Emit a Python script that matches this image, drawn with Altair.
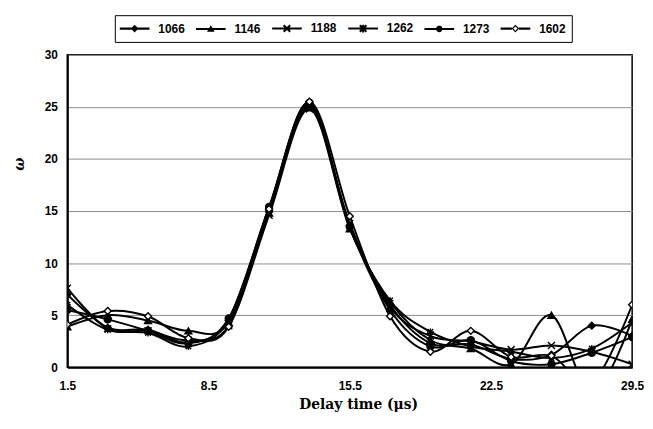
import math
import altair as alt
import pandas as pd

# ---------------- data ----------------
delay = [1.5, 3.5, 5.5, 7.5, 9.5, 11.5, 13.5, 15.5, 17.5, 19.5, 21.5, 23.5, 25.5, 27.5, 29.5]
series_names = ["1066", "1146", "1188", "1262", "1273", "1602"]

w1066 = [7.0, 3.8, 3.6, 2.4, 4.5, 15.0, 25.1, 13.6, 6.0, 2.3, 2.2, 0.8, 1.2, 4.0, 3.0]
w1146 = [3.9, 5.0, 4.5, 3.5, 4.3, 14.8, 24.9, 13.3, 6.3, 2.6, 1.8, 0.3, 5.0, -2.5, 4.6]
w1188 = [7.6, 3.7, 3.5, 2.6, 4.0, 14.6, 24.8, 13.8, 5.8, 3.0, 2.5, 1.7, 2.1, 1.5, 0.3]
w1262 = [6.0, 3.6, 3.3, 2.0, 4.6, 15.3, 25.2, 13.4, 6.4, 3.4, 2.0, 1.5, 0.9, 1.8, 4.3]
w1273 = [5.5, 4.6, 3.5, 2.3, 4.7, 15.4, 25.4, 13.5, 5.5, 2.0, 2.6, 0.6, 0.3, 1.4, 2.9]
w1602 = [4.1, 5.4, 4.9, 2.8, 3.9, 15.2, 25.5, 14.5, 4.9, 1.5, 3.5, 1.0, 1.1, -1.5, 6.0]

x_ticks = [1.5, 8.5, 15.5, 22.5, 29.5]
y_ticks = [0, 5, 10, 15, 20, 25, 30]

rows = []
for name, vals in zip(series_names, [w1066, w1146, w1188, w1262, w1273, w1602]):
    for t, v in zip(delay, vals):
        rows.append({"t": t, "w": v, "series": name})
df = pd.DataFrame(rows)

# ---------------- marker shapes (chart) ----------------
X_PATH = "M-1,-1L1,1M-1,1L1,-1"
AST_PATH = "M-1,0L1,0M0,-1L0,1M-0.8,-0.8L0.8,0.8M-0.8,0.8L0.8,-0.8"
point_shapes = ["diamond", "triangle-up", X_PATH, AST_PATH, "circle", "diamond"]
point_fills = ["black", "black", "black", "black", "black", "white"]

# ---------------- legend symbols: filled polygons (unit = 6px) ----------------
c = 1.17   # marker centre offset
L = 2.5    # half length of the legend line
h = 0.17   # half thickness of strokes


def f(v):
    return f"{v:.3f}"


def poly(pts, positive=True):
    area = sum(pts[i][0] * pts[(i + 1) % len(pts)][1] - pts[(i + 1) % len(pts)][0] * pts[i][1]
               for i in range(len(pts)))
    if (area > 0) != positive:
        pts = pts[::-1]
    return "M" + "L".join(f"{f(x)},{f(y)}" for x, y in pts) + "Z"


def bar(x0, y0, x1, y1, t=h):
    dx, dy = x1 - x0, y1 - y0
    n = math.hypot(dx, dy)
    nx, ny = -dy / n * t, dx / n * t
    return poly([(x0 - nx, y0 - ny), (x1 - nx, y1 - ny), (x1 + nx, y1 + ny), (x0 + nx, y0 + ny)])


def diamond(r, positive=True):
    return poly([(c - r, 0), (c, -r), (c + r, 0), (c, r)], positive)


line_full = bar(c - L, 0, c + L, 0)
tri = poly([(c - 0.64, 0.47), (c, -0.64), (c + 0.64, 0.47)])
xm = bar(c - 0.55, -0.55, c + 0.55, 0.55) + bar(c - 0.55, 0.55, c + 0.55, -0.55)
astm = xm + bar(c, -0.65, c, 0.65)
circ = poly([(c + 0.55 * math.cos(2 * math.pi * k / 20), 0.55 * math.sin(2 * math.pi * k / 20))
             for k in range(20)])
ring = (bar(c - L, 0, c - 0.6, 0) + bar(c + 0.6, 0, c + L, 0)
        + diamond(0.64, True) + diamond(0.36, False))
legend_paths = [
    line_full + diamond(0.64),
    line_full + tri,
    line_full + xm,
    line_full + astm,
    line_full + circ,
    ring,
]

# ---------------- encodings ----------------
x_enc = alt.X(
    "t:Q",
    scale=alt.Scale(domain=[1.5, 29.5], nice=False, zero=False),
    axis=alt.Axis(
        values=x_ticks, format=".1f", grid=False, ticks=False, labelFlush=False,
        labelPadding=13, title="Delay time (μs)", titleFont="DejaVu Serif",
        titleFontWeight="bold", titleFontSize=14, titleColor="black",
        titleBaseline="middle", titleY=38, titleX=294,
    ),
)
y_enc = alt.Y(
    "w:Q",
    scale=alt.Scale(domain=[0, 30], nice=False, zero=True),
    axis=alt.Axis(
        values=y_ticks, grid=True, ticks=False, labelFlush=False, labelPadding=10,
        gridColor="#8c8c8c", gridWidth=1,
        title="ω", titleFont="DejaVu Serif", titleFontStyle="italic",
        titleFontWeight="bold", titleFontSize=14, titleColor="black",
        titleBaseline="middle", titleX=-48, titleY=110,
    ),
)

lines = alt.Chart(df).mark_line(
    interpolate="cardinal", color="black", strokeWidth=2, clip=True
).encode(x=x_enc, y=y_enc, detail="series:N")

points = alt.Chart(df).mark_point(
    filled=True, stroke="black", strokeWidth=1.4, size=50, opacity=1, clip=True
).encode(
    x=x_enc, y=y_enc,
    shape=alt.Shape("series:N", scale=alt.Scale(domain=series_names, range=point_shapes), legend=None),
    fill=alt.Fill("series:N", scale=alt.Scale(domain=series_names, range=point_fills), legend=None),
)

legend_layer = alt.Chart(df).transform_filter("datum.w < -100").mark_point(
    filled=True, fill="black", size=144, opacity=1
).encode(
    x=x_enc, y=y_enc,
    shape=alt.Shape(
        "series:N",
        scale=alt.Scale(domain=series_names, range=legend_paths),
        legend=alt.Legend(
            title=None, orient="none", legendX=48, legendY=-40, direction="horizontal",
            columns=6, strokeColor="black", fillColor="white", padding=6,
            labelFont="Liberation Sans", labelFontWeight="bold", labelFontSize=12,
            labelColor="black", labelOffset=24, columnPadding=8, symbolSize=144,
            symbolFillColor="black", labelLimit=0,
        ),
    ),
)

chart = alt.layer(lines, points, legend_layer).resolve_scale(
    shape="independent"
).properties(
    width=571, height=316,
    autosize=alt.AutoSizeParams(type="none"),
    padding={"left": 60, "top": 45, "right": 13, "bottom": 52},
    background="white",
).configure_view(
    stroke="black", strokeWidth=1.5
).configure_axis(
    labelFont="Liberation Sans", labelFontWeight="bold", labelFontSize=12,
    labelColor="black", domainColor="black", domainWidth=2,
)

chart.save("out.html", embed_options={"renderer": "svg", "actions": False})
